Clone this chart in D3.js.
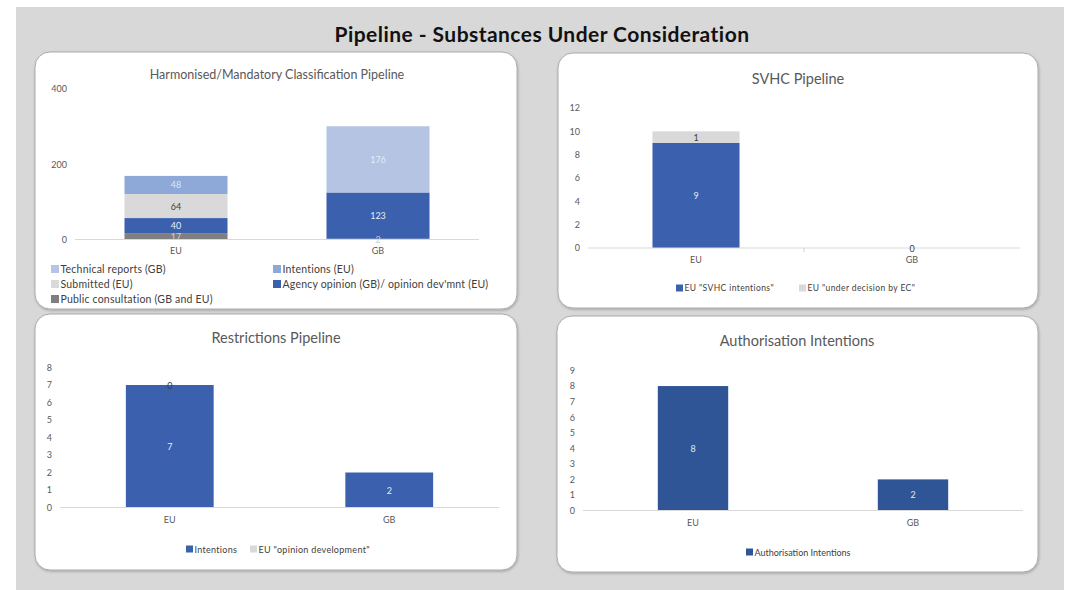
<!DOCTYPE html>
<html>
<head>
<meta charset="utf-8">
<script src="https://cdn.jsdelivr.net/npm/d3@7"></script>
<style>
  html, body { margin: 0; padding: 0; background: #ffffff; }
  svg { display: block; font-family: Lato, "Open Sans", sans-serif; }
</style>
</head>
<body>
<svg id="dash" width="1071" height="590"></svg>
<script>
// ---- data ----
const regions = ["EU", "GB"];

// Harmonised/Mandatory Classification pipeline (stacked, bottom to top)
const clhPublicConsultation = [17, 2];
const clhAgencyOpinion      = [40, 123];
const clhSubmitted          = [64, null];
const clhIntentions         = [48, null];
const clhTechnicalReports   = [null, 176];
const clhTicks = [0, 200, 400];

// SVHC pipeline
const svhcIntentions   = [9, null];
const svhcUnderDecision = [1, 0];
const svhcTicks = [0, 2, 4, 6, 8, 10, 12];

// Restrictions pipeline
const restrictionIntentions = [7, 2];
const restrictionOpinionDev = [0, null];
const restrictionTicks = [0, 1, 2, 3, 4, 5, 6, 7, 8];

// Authorisation intentions
const authorisationIntentions = [8, 2];
const authorisationTicks = [0, 1, 2, 3, 4, 5, 6, 7, 8, 9];

// ---- palette ----
const BLUE = "#3a60ae";
const DARK_BLUE = "#2f5597";
const MID_BLUE = "#8ea8d8";
const PALE_BLUE = "#b4c4e2";
const LIGHT_GREY = "#d9d9d9";
const DARK_GREY = "#7f7f7f";
const TEXT = "#595959";

const svg = d3.select("#dash");

const defs = svg.append("defs");
const shadow = defs.append("filter").attr("id", "shade")
  .attr("x", "-5%").attr("y", "-5%").attr("width", "110%").attr("height", "115%");
shadow.append("feDropShadow").attr("dx", 0.6).attr("dy", 1.2)
  .attr("stdDeviation", 1).attr("flood-color", "#000").attr("flood-opacity", 0.25);

// grey backdrop
svg.append("rect").attr("x", 16).attr("y", 7).attr("width", 1048).attr("height", 583)
  .attr("fill", "#d8d8d8");

svg.append("text").attr("x", 542).attr("y", 33)
  .attr("text-anchor", "middle").attr("dominant-baseline", "central")
  .attr("font-size", 21).attr("font-weight", 700).attr("fill", "#111")
  .attr("letter-spacing", 0.45)
  .text("Pipeline - Substances Under Consideration");

function drawCard(box) {
  svg.append("rect")
    .attr("x", box.x).attr("y", box.y).attr("width", box.w).attr("height", box.h)
    .attr("rx", 15).attr("ry", 15)
    .attr("fill", "#fff").attr("stroke", "#ababab").attr("stroke-width", 1)
    .attr("filter", "url(#shade)");
}

function drawChart(cfg) {
  drawCard(cfg.box);
  const g = svg.append("g");

  g.append("text").attr("x", cfg.titleX).attr("y", cfg.titleY)
    .attr("text-anchor", "middle").attr("dominant-baseline", "central")
    .attr("font-size", cfg.titleSize).attr("fill", TEXT).text(cfg.title);

  const x = d3.scaleBand().domain(regions)
    .range([cfg.plot.x0, cfg.plot.x1])
    .paddingInner(cfg.pad).paddingOuter(cfg.pad / 2);
  const y = d3.scaleLinear().domain([0, d3.max(cfg.ticks)])
    .range([cfg.plot.y0, cfg.plot.y1]);

  // value axis: labels only
  const yAxis = d3.axisLeft(y).tickValues(cfg.ticks).tickSize(0).tickPadding(8);
  const ya = g.append("g").attr("transform", `translate(${cfg.plot.x0},0)`).call(yAxis);
  ya.select(".domain").remove();
  ya.selectAll("text").attr("font-size", 9).attr("fill", TEXT)
    .attr("font-family", "Lato, sans-serif");

  // stacked bars
  const rows = regions.map((r, i) => {
    const o = { region: r };
    cfg.series.forEach(s => { o[s.key] = s.values[i] == null ? 0 : s.values[i]; });
    return o;
  });
  const stacked = d3.stack().keys(cfg.series.map(s => s.key))(rows);

  stacked.forEach((layer, li) => {
    const s = cfg.series[li];
    g.append("g").selectAll("rect").data(layer).join("rect")
      .attr("x", d => x(d.data.region))
      .attr("width", x.bandwidth())
      .attr("y", d => y(d[1]))
      .attr("height", d => y(d[0]) - y(d[1]))
      .attr("fill", s.color);
  });

  // category axis line
  const xa = g.append("g").attr("transform", `translate(0,${cfg.plot.y0})`)
    .call(d3.axisBottom(x).tickSize(0).tickPadding(cfg.xLabelPad));
  xa.select(".domain").attr("stroke", LIGHT_GREY).attr("stroke-width", 1.2)
    .attr("d", `M${cfg.plot.x0},0H${cfg.plot.x1}`);
  xa.selectAll("text").attr("font-size", 9).attr("fill", TEXT)
    .attr("font-family", "Lato, sans-serif");
  if (cfg.midTick) {
    xa.append("line")
      .attr("x1", (cfg.plot.x0 + cfg.plot.x1) / 2).attr("x2", (cfg.plot.x0 + cfg.plot.x1) / 2)
      .attr("y1", 0).attr("y2", 4).attr("stroke", LIGHT_GREY).attr("stroke-width", 1.2);
  }

  // data labels
  stacked.forEach((layer, li) => {
    const s = cfg.series[li];
    g.append("g").selectAll("text")
      .data(layer.filter((d, i) => s.values[i] != null))
      .join("text")
      .attr("x", d => x(d.data.region) + x.bandwidth() / 2)
      .attr("y", d => y((d[0] + d[1]) / 2))
      .attr("text-anchor", "middle").attr("dominant-baseline", "central")
      .attr("font-size", 9).attr("fill", s.labelColor)
      .text(d => d[1] - d[0]);
  });

  // legend
  cfg.legend.forEach(item => {
    const s = cfg.series.find(v => v.key === item.key);
    g.append("rect").attr("x", item.x).attr("y", item.y - cfg.swatch / 2)
      .attr("width", cfg.swatch).attr("height", cfg.swatch).attr("fill", s.color);
    g.append("text").attr("x", item.x + cfg.swatch + 1.5).attr("y", item.y)
      .attr("dominant-baseline", "central")
      .attr("font-size", cfg.legendSize).attr("fill", "#404040")
      .attr("letter-spacing", cfg.legendSpacing || 0)
      .text(s.name);
  });
}

// Harmonised/Mandatory Classification Pipeline
drawChart({
  box: { x: 35, y: 52, w: 482, h: 257 },
  title: "Harmonised/Mandatory Classification Pipeline", titleX: 277, titleY: 74, titleSize: 12.5,
  plot: { x0: 75, x1: 479, y0: 239.5, y1: 89 },
  ticks: clhTicks, pad: 0.49, xLabelPad: 8,
  series: [
    { key: "pc",  name: "Public consultation (GB and EU)", values: clhPublicConsultation, color: DARK_GREY, labelColor: "#d0d0d0" },
    { key: "ao",  name: "Agency opinion (GB)/ opinion dev'mnt (EU)", values: clhAgencyOpinion, color: BLUE, labelColor: "#e8ecf4" },
    { key: "sub", name: "Submitted (EU)", values: clhSubmitted, color: LIGHT_GREY, labelColor: "#404040" },
    { key: "int", name: "Intentions (EU)", values: clhIntentions, color: MID_BLUE, labelColor: "#dfe6f3" },
    { key: "tr",  name: "Technical reports (GB)", values: clhTechnicalReports, color: PALE_BLUE, labelColor: "#e6ebf5" }
  ],
  swatch: 8, legendSize: 10.5, legendSpacing: 0.2,
  legend: [
    { key: "tr",  x: 51,  y: 269 },
    { key: "int", x: 273, y: 269 },
    { key: "sub", x: 51,  y: 284 },
    { key: "ao",  x: 273, y: 284 },
    { key: "pc",  x: 51,  y: 299 }
  ]
});

// SVHC Pipeline
drawChart({
  box: { x: 558, y: 53, w: 480, h: 255 },
  title: "SVHC Pipeline", titleX: 798, titleY: 78, titleSize: 14.5,
  plot: { x0: 588, x1: 1020, y0: 248, y1: 108 },
  ticks: svhcTicks, pad: 0.597, xLabelPad: 9, midTick: true,
  series: [
    { key: "si", name: "EU \"SVHC intentions\"", values: svhcIntentions, color: BLUE, labelColor: "#e8ecf4" },
    { key: "ud", name: "EU \"under decision by EC\"", values: svhcUnderDecision, color: LIGHT_GREY, labelColor: "#404040" }
  ],
  swatch: 7, legendSize: 8.5, legendSpacing: 0.4,
  legend: [
    { key: "si", x: 676, y: 288 },
    { key: "ud", x: 799, y: 288 }
  ]
});

// Restrictions Pipeline
drawChart({
  box: { x: 35, y: 314, w: 482, h: 256 },
  title: "Restrictions Pipeline", titleX: 276, titleY: 337, titleSize: 14.5,
  plot: { x0: 60, x1: 499, y0: 507.5, y1: 367.5 },
  ticks: restrictionTicks, pad: 0.6, xLabelPad: 9,
  series: [
    { key: "ri", name: "Intentions", values: restrictionIntentions, color: BLUE, labelColor: "#e8ecf4" },
    { key: "od", name: "EU \"opinion development\"", values: restrictionOpinionDev, color: LIGHT_GREY, labelColor: "#404040" }
  ],
  swatch: 7, legendSize: 9, legendSpacing: 0.3,
  legend: [
    { key: "ri", x: 186, y: 549 },
    { key: "od", x: 250, y: 549 }
  ]
});

// Authorisation Intentions
drawChart({
  box: { x: 557, y: 316, w: 481, h: 256 },
  title: "Authorisation Intentions", titleX: 797, titleY: 340, titleSize: 14.5,
  plot: { x0: 583, x1: 1023, y0: 510.5, y1: 370.5 },
  ticks: authorisationTicks, pad: 0.68, xLabelPad: 9,
  series: [
    { key: "ai", name: "Authorisation Intentions", values: authorisationIntentions, color: DARK_BLUE, labelColor: "#e0e6f0" }
  ],
  swatch: 7, legendSize: 9, legendSpacing: 0,
  legend: [
    { key: "ai", x: 746, y: 552 }
  ]
});
</script>
</body>
</html>
